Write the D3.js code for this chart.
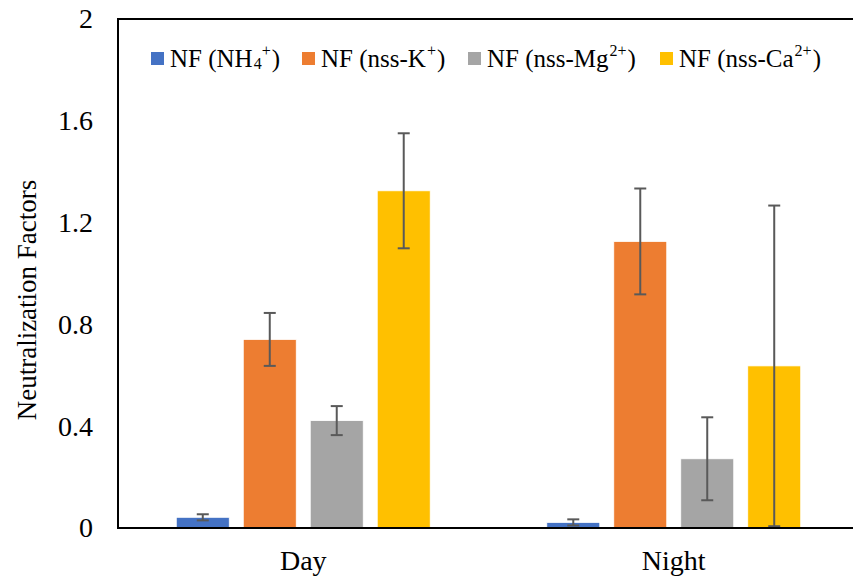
<!DOCTYPE html>
<html>
<head>
<meta charset="utf-8">
<script src="https://cdn.jsdelivr.net/npm/d3@7"></script>
<style>
  html, body { margin: 0; padding: 0; background: #fff; }
</style>
</head>
<body>
<svg id="chart" width="853" height="579"></svg>
<script>
// Neutralization factors by period, with standard-deviation error bars
const periods = ["Day", "Night"];
const seriesKeys = ["NH4", "K", "Mg", "Ca"];
const seriesColors = ["#4472C4", "#ED7D31", "#A5A5A5", "#FFC000"];
const valuesNH4 = [0.042, 0.022];
const valuesK   = [0.741, 1.126];
const valuesMg  = [0.422, 0.272];
const valuesCa  = [1.325, 0.637];
const errNH4 = [0.012, 0.012];
const errK   = [0.104, 0.208];
const errMg  = [0.057, 0.163];
const errCa  = [0.226, 0.630];
const yTicks = [0, 0.4, 0.8, 1.2, 1.6, 2];
const yTickLabels = ["0", "0.4", "0.8", "1.2", "1.6", "2"];
const yTitle = "Neutralization Factors";

// legend labels: [base, subscript, superscript, closing]
const legendParts = [
  ["NF (NH", "4", "+", ")"],
  ["NF (nss-K", "", "+", ")"],
  ["NF (nss-Mg", "", "2+", ")"],
  ["NF (nss-Ca", "", "2+", ")"]
];

const values = [valuesNH4, valuesK, valuesMg, valuesCa];
const errors = [errNH4, errK, errMg, errCa];

const FONT = "'Liberation Serif'";
const svg = d3.select("#chart");
const plot = { left: 118, right: 859, top: 19, bottom: 528 };

const x0 = d3.scaleBand().domain(periods).range([plot.left, plot.right]).padding(0);
const x1 = d3.scaleBand().domain(seriesKeys).range([0, x0.bandwidth()])
  .paddingInner(0.209).paddingOuter(0.87);
const y = d3.scaleLinear().domain([0, 2]).range([plot.bottom, plot.top]);

const rows = [];
periods.forEach((p, i) => {
  seriesKeys.forEach((k, j) => {
    rows.push({ period: p, key: k, color: seriesColors[j], value: values[j][i], err: errors[j][i] });
  });
});

// bars
svg.append("g").selectAll("rect").data(rows).join("rect")
  .attr("x", d => x0(d.period) + x1(d.key))
  .attr("y", d => y(d.value))
  .attr("width", x1.bandwidth())
  .attr("height", d => y(0) - y(d.value))
  .attr("fill", d => d.color)
  .attr("stroke", "#fff")
  .attr("stroke-width", 0.8);

// error bars
const eb = svg.append("g").attr("stroke", "#595959").attr("stroke-width", 2).attr("fill", "none");
rows.forEach(d => {
  const cx = x0(d.period) + x1(d.key) + x1.bandwidth() / 2;
  const hi = y(d.value + d.err), lo = y(Math.max(0, d.value - d.err));
  eb.append("line").attr("x1", cx).attr("x2", cx).attr("y1", hi).attr("y2", lo);
  eb.append("line").attr("x1", cx - 6).attr("x2", cx + 6).attr("y1", hi).attr("y2", hi);
  eb.append("line").attr("x1", cx - 6).attr("x2", cx + 6).attr("y1", lo).attr("y2", lo);
});

// plot frame
svg.append("rect")
  .attr("x", plot.left).attr("y", plot.top)
  .attr("width", plot.right - plot.left).attr("height", plot.bottom - plot.top)
  .attr("fill", "none").attr("stroke", "#000").attr("stroke-width", 2);

// y axis labels
const yAxis = d3.axisLeft(y).tickValues(yTicks)
  .tickFormat((d, i) => yTickLabels[i]).tickSize(0).tickPadding(25);
const gy = svg.append("g").attr("transform", `translate(${plot.left},0)`).call(yAxis);
gy.select(".domain").remove();
gy.selectAll("text").style("font-family", FONT).style("font-size", "28px").attr("fill", "#000");

// x axis labels
const xAxis = d3.axisBottom(x0).tickSize(0).tickPadding(22);
const gx = svg.append("g").attr("transform", `translate(0,${plot.bottom})`).call(xAxis);
gx.select(".domain").remove();
gx.selectAll("text").style("font-family", FONT).style("font-size", "28px").attr("fill", "#000");

// y axis title
svg.append("text")
  .attr("transform", `translate(36,300) rotate(-90)`)
  .attr("text-anchor", "middle")
  .style("font-family", FONT)
  .style("font-size", "27px")
  .attr("fill", "#000")
  .text(yTitle);

// legend
const legendX = [151, 302, 468, 660];
const lg = svg.append("g");
legendParts.forEach((parts, i) => {
  const g = lg.append("g").attr("transform", `translate(${legendX[i]},0)`);
  g.append("rect").attr("x", 0).attr("y", 52).attr("width", 13).attr("height", 13).attr("fill", seriesColors[i]);
  const t = g.append("text").attr("x", 19).attr("y", 67)
    .style("font-family", FONT).style("font-size", "25px").attr("fill", "#000");
  t.append("tspan").text(parts[0]);
  if (parts[1]) t.append("tspan").style("font-size", "16px").attr("dx", 1).attr("dy", 2).text(parts[1]);
  if (parts[2]) t.append("tspan").style("font-size", "16px").attr("dx", parts[1] ? 0 : 1).attr("dy", parts[1] ? -13 : -11).text(parts[2]);
  t.append("tspan").attr("dx", 1).attr("dy", 11).text(parts[3]);
});
</script>
</body>
</html>
